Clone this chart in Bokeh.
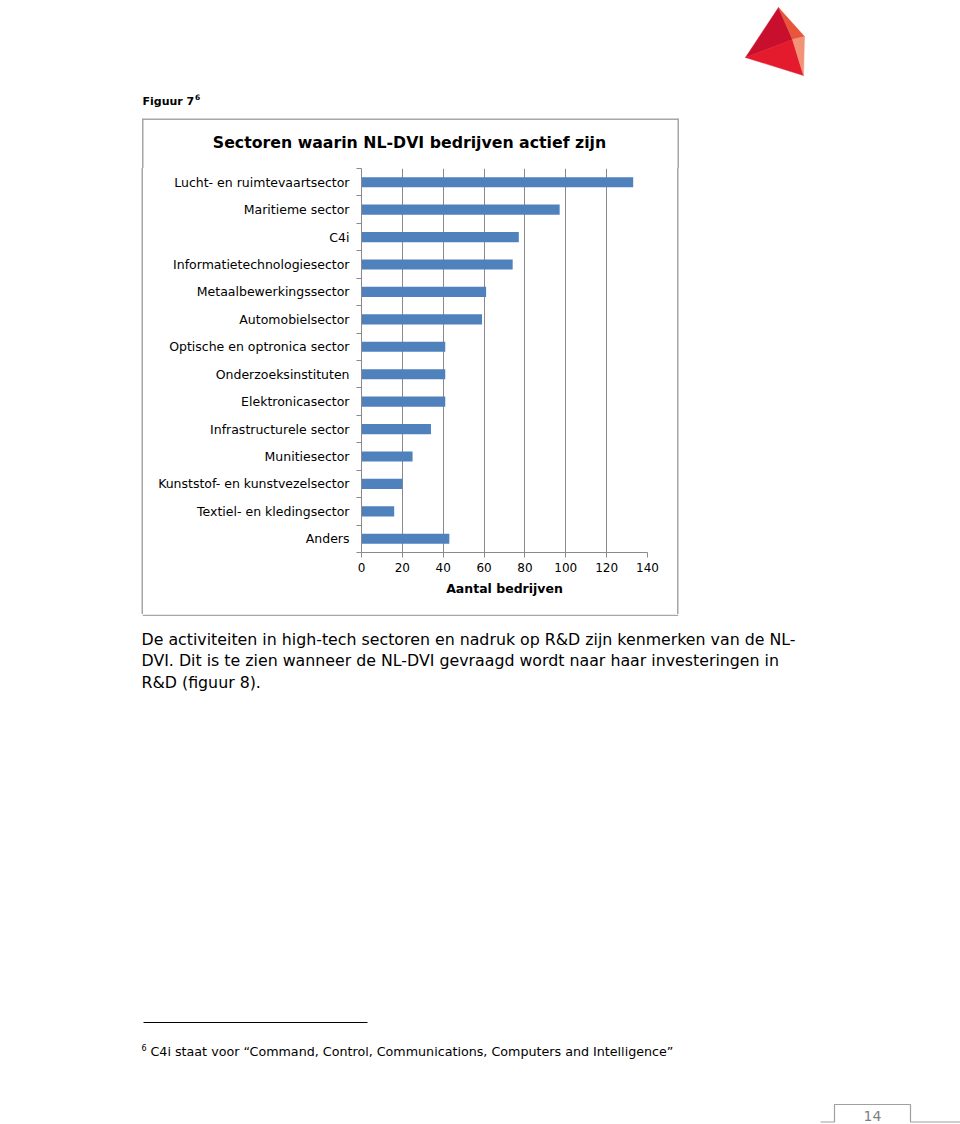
from bokeh.plotting import figure
from bokeh.layouts import column, row
from bokeh.models import Range1d, LinearAxis, FixedTicker, ColumnDataSource, Spacer
from bokeh.core.properties import value
from bokeh.embed import file_html
from bokeh.resources import INLINE

# ---------------- data ----------------
categories = [
    "Lucht- en ruimtevaartsector",
    "Maritieme sector",
    "C4i",
    "Informatietechnologiesector",
    "Metaalbewerkingssector",
    "Automobielsector",
    "Optische en optronica sector",
    "Onderzoeksinstituten",
    "Elektronicasector",
    "Infrastructurele sector",
    "Munitiesector",
    "Kunststof- en kunstvezelsector",
    "Textiel- en kledingsector",
    "Anders",
]
values = [133, 97, 77, 74, 61, 59, 41, 41, 41, 34, 25, 20, 16, 43]
x_ticks = [0, 20, 40, 60, 80, 100, 120, 140]
x_label = "Aantal bedrijven"
chart_title = "Sectoren waarin NL-DVI bedrijven actief zijn"
caption = "Figuur 7"
footnote_mark = "6"
body_lines = [
    "De activiteiten in high-tech sectoren en nadruk op R&D zijn kenmerken van de NL-",
    "DVI. Dit is te zien wanneer de NL-DVI gevraagd wordt naar haar investeringen in",
    "R&D (figuur 8).",
]
footnote = "C4i staat voor \u201cCommand, Control, Communications, Computers and Intelligence\u201d"
page_number = "14"

# ---------------- layout constants ----------------
W, H = 960, 1124
BOX_L, BOX_R, BOX_T, BOX_B = 143, 677, 118, 614
FL, FR, FT, FB = 361, 647, 168, 552
GRID = "#8a8a8a"
BOXC = "#a6a6a6"
BAR = "#4f81bd"
FONT = "DejaVu Sans"
BW = 1.5


def page_fig(x0, x1, y0, y1):
    f = figure(width=x1 - x0, height=y1 - y0,
               x_range=Range1d(x0, x1), y_range=Range1d(y1, y0),
               x_axis_type=None, y_axis_type=None,
               output_backend="svg", toolbar_location=None,
               min_border=0, outline_line_color=None)
    f.grid.visible = False
    f.background_fill_color = "white"
    f.border_fill_color = "white"
    return f


def txt(f, x, y, text, size, bold=False, color="#000000", align="left"):
    f.text(x=[x], y=[y], text=[text], text_font=value(FONT),
           text_font_size=f"{size}px",
           text_font_style="bold" if bold else "normal",
           text_color=color, text_align=align, text_baseline="middle")


# ---------------- header (page top + upper part of the chart box) ----------------
head = page_fig(0, W, 0, FT)
A, Lp, Bp, Rp, Ip = (778, 7), (745, 57), (803, 75), (804, 36), (792, 39)
faces = [(A, Lp, Ip), (Lp, Ip, Bp), (A, Rp, Ip), (Ip, Rp, Bp)]
face_cols = ["#c8102e", "#e31b2d", "#e8553b", "#f29378"]
head.patches(xs=[[v[0] for v in t] for t in faces], ys=[[v[1] for v in t] for t in faces],
             fill_color=face_cols, line_color=face_cols, line_width=0.5)
txt(head, 142, 100.8, caption, 11, bold=True)
txt(head, 194.5, 96.5, footnote_mark, 7.5, bold=True)
xl, xr = BOX_L - BW / 2, BOX_R + BW / 2
head.line([xl, xr], [BOX_T + BW / 2, BOX_T + BW / 2], line_color=BOXC, line_width=BW)
head.line([xl, xl], [BOX_T, FT], line_color=BOXC, line_width=BW)
head.line([xr, xr], [BOX_T, FT], line_color=BOXC, line_width=BW)
txt(head, (BOX_L + BOX_R) / 2 - 1, 141.5, chart_title, 15.75, bold=True, align="center")

# ---------------- chart ----------------
n = len(categories)
pos = [n - 1 - i for i in range(n)]          # first category on top
bounds = [k - 0.5 for k in range(n + 1)]     # category boundaries

p = figure(width=BOX_R - BOX_L, height=BOX_B - FT,
           x_range=Range1d(0, 140), y_range=Range1d(-0.5, n - 0.5),
           y_axis_type=None, output_backend="svg", toolbar_location=None,
           min_border_left=FL - BOX_L, min_border_right=BOX_R - FR,
           min_border_top=0, min_border_bottom=BOX_B - FB)
p.outline_line_color = None
p.background_fill_color = "white"
p.border_fill_color = "white"

src = ColumnDataSource(dict(pos=pos, cat=categories, val=values))
p.hbar(y="pos", left=0, right="val", height=0.37, source=src,
       fill_color=BAR, line_color=None)

xa = p.xaxis[0]
xa.ticker = FixedTicker(ticks=x_ticks)
xa.axis_line_color = GRID
xa.major_tick_line_color = GRID
xa.major_tick_out = 5
xa.major_tick_in = 0
xa.minor_tick_line_color = None
xa.major_label_text_font = FONT
xa.major_label_text_font_size = "12px"
xa.major_label_text_color = "#000000"
xa.major_label_standoff = 5
xa.axis_label = x_label
xa.axis_label_text_font = FONT
xa.axis_label_text_font_style = "bold"
xa.axis_label_text_font_size = "12.5px"
xa.axis_label_text_color = "#000000"
xa.axis_label_standoff = 6
p.xgrid.grid_line_color = GRID
p.xgrid.grid_line_width = 1

# category axis: labels at centres, boundary marks as minor ticks
cat_axis = LinearAxis(ticker=FixedTicker(ticks=pos, minor_ticks=bounds),
                      major_label_overrides={k: c for k, c in zip(pos, categories)},
                      axis_line_color=GRID,
                      major_tick_line_color=None, major_tick_out=0, major_tick_in=0,
                      minor_tick_line_color=GRID, minor_tick_out=5, minor_tick_in=0,
                      major_label_standoff=7,
                      major_label_text_font=FONT,
                      major_label_text_font_size="12.5px",
                      major_label_text_color="#000000")
p.add_layout(cat_axis, "left")

# ---------------- lower page ----------------
low = page_fig(0, W, BOX_B, H)
low.line([xl, xr], [BOX_B + BW / 2, BOX_B + BW / 2], line_color=BOXC, line_width=BW)
for i, line in enumerate(body_lines):
    txt(low, 141, 639 + 21.3 * i, line, 15.8)
low.line([143, 367], [1022, 1022], line_color="#000000", line_width=1)
txt(low, 141, 1047, footnote_mark, 8)
txt(low, 150, 1051, footnote, 12.7)
low.line([820, 834, 834, 910, 910, 960], [1121.5, 1121.5, 1104, 1104, 1121.5, 1121.5],
         line_color="#a0a0a0", line_width=1.2)
txt(low, 872, 1115, page_number, 14, color="#7f7f7f", align="center")

strip_h = BOX_B - FT
left_strip = Spacer(width=BOX_L, height=strip_h,
                    styles={"box-shadow": f"inset -{BW}px 0 0 {BOXC}"})
right_strip = Spacer(width=W - BOX_R, height=strip_h,
                     styles={"box-shadow": f"inset {BW}px 0 0 {BOXC}"})
page = column(head, row(left_strip, p, right_strip), low)
open("out.html", "w").write(file_html(page, INLINE))
